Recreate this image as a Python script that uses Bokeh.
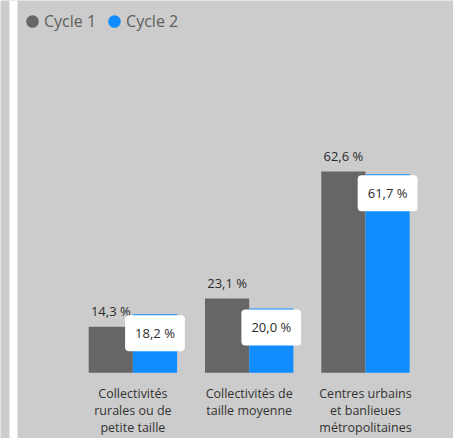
import numpy as np
from bokeh.plotting import figure
from bokeh.models import ColumnDataSource, Range1d, Legend, LegendItem, BoxAnnotation
from bokeh.transform import dodge
from bokeh.core.properties import value
from bokeh.embed import file_html
from bokeh.resources import INLINE

# ---- data ----
categories = ["Collectivités\nrurales ou de\npetite taille",
              "Collectivités de\ntaille moyenne",
              "Centres urbains\net banlieues\nmétropolitaines"]
series_names = ["Cycle 1", "Cycle 2"]
cycle1 = [14.3, 23.1, 62.6]
cycle2 = [18.2, 20.0, 61.7]

def fmt(v):
    return f"{v:.1f}".replace(".", ",") + " %"

BG = "#CCCCCC"
GREY = "#666666"
BLUE = "#118DFF"
FONT = value("Open Sans")

src = ColumnDataSource(dict(
    x=np.arange(len(categories)),
    cat=categories,
    c1=cycle1,
    c2=cycle2,
    l1=[fmt(v) for v in cycle1],
    l2=[fmt(v) for v in cycle2],
))

p = figure(width=453, height=438, output_backend="svg", toolbar_location=None,
           x_range=Range1d(-1.1384, 2.7567), y_range=Range1d(-20.43, 115.76),
           x_axis_type=None, y_axis_type=None, min_border=0,
           background_fill_color=BG, border_fill_color=BG, outline_line_color=None)
p.grid.visible = False

# decorative white strip on the left
p.add_layout(BoxAnnotation(left=9, right=17, left_units="screen", right_units="screen",
                           fill_color="white", fill_alpha=1, line_color=None, level="underlay"))

bw = 0.38
off = 0.19
p.vbar(x=dodge("x", -off), top="c1", width=bw, source=src, fill_color=GREY, line_color=None)
p.vbar(x=dodge("x", off), top="c2", width=bw, source=src, fill_color=BLUE, line_color=None)

# data labels
p.text(x=dodge("x", -off), y="c1", text="l1", source=src, text_align="center",
       text_baseline="middle", y_offset=-15.5, text_font=FONT, text_font_size="13px",
       text_color="#2B2B2B")
p.text(x=dodge("x", off), y="c2", text="l2", source=src, text_align="center",
       text_baseline="middle", y_offset=19, text_font=FONT, text_font_size="13px",
       text_color="#2B2B2B", background_fill_color="white", padding=(10, 9),
       border_radius=4)

# category labels
p.text(x="x", y=0, text="cat", source=src, text_align="center", text_baseline="top",
       y_offset=12, text_line_height=1.0, text_font=FONT, text_font_size="12.5px",
       text_color="#333333")

# legend
r1 = p.scatter(x=[np.nan], y=[np.nan], marker="circle", size=12, fill_color=GREY,
               line_color=GREY, line_width=3)
r2 = p.scatter(x=[np.nan], y=[np.nan], marker="circle", size=12, fill_color=BLUE,
               line_color=BLUE, line_width=3)
legend = Legend(items=[LegendItem(label=series_names[0], renderers=[r1]),
                       LegendItem(label=series_names[1], renderers=[r2])],
                orientation="horizontal", location=(20, 405), glyph_width=24, glyph_height=24,
                label_standoff=0, spacing=6, padding=0, margin=0,
                border_line_alpha=0, background_fill_alpha=0,
                label_text_font="Open Sans", label_text_font_size="16px",
                label_text_color="#605E5C")
p.add_layout(legend, "center")

open("out.html", "w").write(file_html(p, INLINE))
